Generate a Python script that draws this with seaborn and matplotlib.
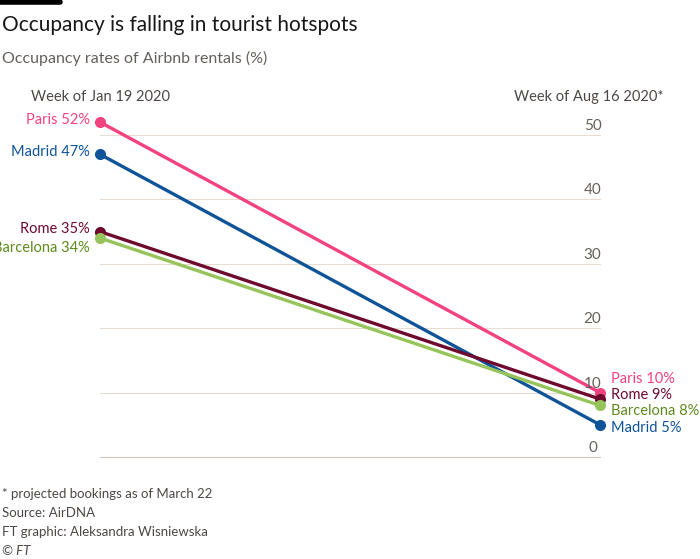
import matplotlib
matplotlib.use("Agg")
import matplotlib.pyplot as plt
import seaborn as sns
import pandas as pd

cities = ["Paris", "Madrid", "Rome", "Barcelona"]
jan = [52, 47, 35, 34]
aug = [10, 5, 9, 8]
periods = ["Week of Jan 19 2020", "Week of Aug 16 2020*"]
line_colors = ["#f2427f", "#0f5499", "#6e0a2e", "#96c45a"]
text_colors = ["#f2427f", "#0f5499", "#6e0a2e", "#5f8a1f"]
left_offsets = [2, 2, 3, -10]   # label nudges in px
right_offsets = [14, -3, 4, -6]

df = pd.DataFrame({
    "city": cities * 2,
    "x": [0] * 4 + [1] * 4,
    "value": jan + aug,
})

sns.set_style("white")
plt.rcParams["font.family"] = ["Lato", "DejaVu Sans"]

fig = plt.figure(figsize=(7, 5.59), dpi=100)
ax = fig.add_axes([100 / 700, 1 - 457 / 559, 500 / 700, 322 / 559])

for y in range(0, 51, 10):
    ax.axhline(y, color="#e9ddd3" if y else "#cfc6bd", lw=0.8, zorder=0)
    ax.text(0.985, y + 0.3, str(y), color="#66605c", fontsize=11, ha="center",
            va="bottom", transform=ax.get_yaxis_transform())

sns.lineplot(data=df, x="x", y="value", hue="city", palette=dict(zip(cities, line_colors)),
             marker="o", markersize=8, markeredgewidth=0, linewidth=2.4, legend=False, ax=ax)
for l in ax.lines:
    l.set_clip_on(False)

for c, a, b, col, lo, ro in zip(cities, jan, aug, text_colors, left_offsets, right_offsets):
    ax.annotate(f"{c} {a}%", (0, a), xytext=(-10, lo), textcoords="offset pixels",
                ha="right", va="center", color=col, fontsize=10.5, annotation_clip=False)
    ax.annotate(f"{c} {b}%", (1, b), xytext=(11, ro), textcoords="offset pixels",
                ha="left", va="center", color=col, fontsize=10.5, annotation_clip=False)

ax.set_xlim(0, 1)
ax.set_ylim(0, 50)
ax.axis("off")

fig.text(31 / 700, 1 - 97 / 559, periods[0], color="#4d4845", fontsize=10.5, va="center")
fig.text(663 / 700, 1 - 97 / 559, periods[1], color="#4d4845", fontsize=10.5, va="center", ha="right")

fig.add_artist(plt.Line2D([0, 60 / 700], [1 - 2 / 559] * 2, color="black", lw=4))
fig.text(2 / 700, 1 - 25 / 559, "Occupancy is falling in tourist hotspots", fontsize=15,
         color="#1a1817", va="center")
fig.text(2 / 700, 1 - 58 / 559, "Occupancy rates of Airbnb rentals (%)", fontsize=11.5,
         color="#66605c", va="center")
foot = ["* projected bookings as of March 22", "Source: AirDNA",
        "FT graphic: Aleksandra Wisniewska", "© FT"]
for i, t in enumerate(foot):
    fig.text(2 / 700, 1 - (494 + i * 19) / 559, t, fontsize=9.5, color="#4d4845", va="center",
             style="italic" if t == "© FT" else "normal")

fig.savefig("out.png", dpi=100, facecolor="white")
